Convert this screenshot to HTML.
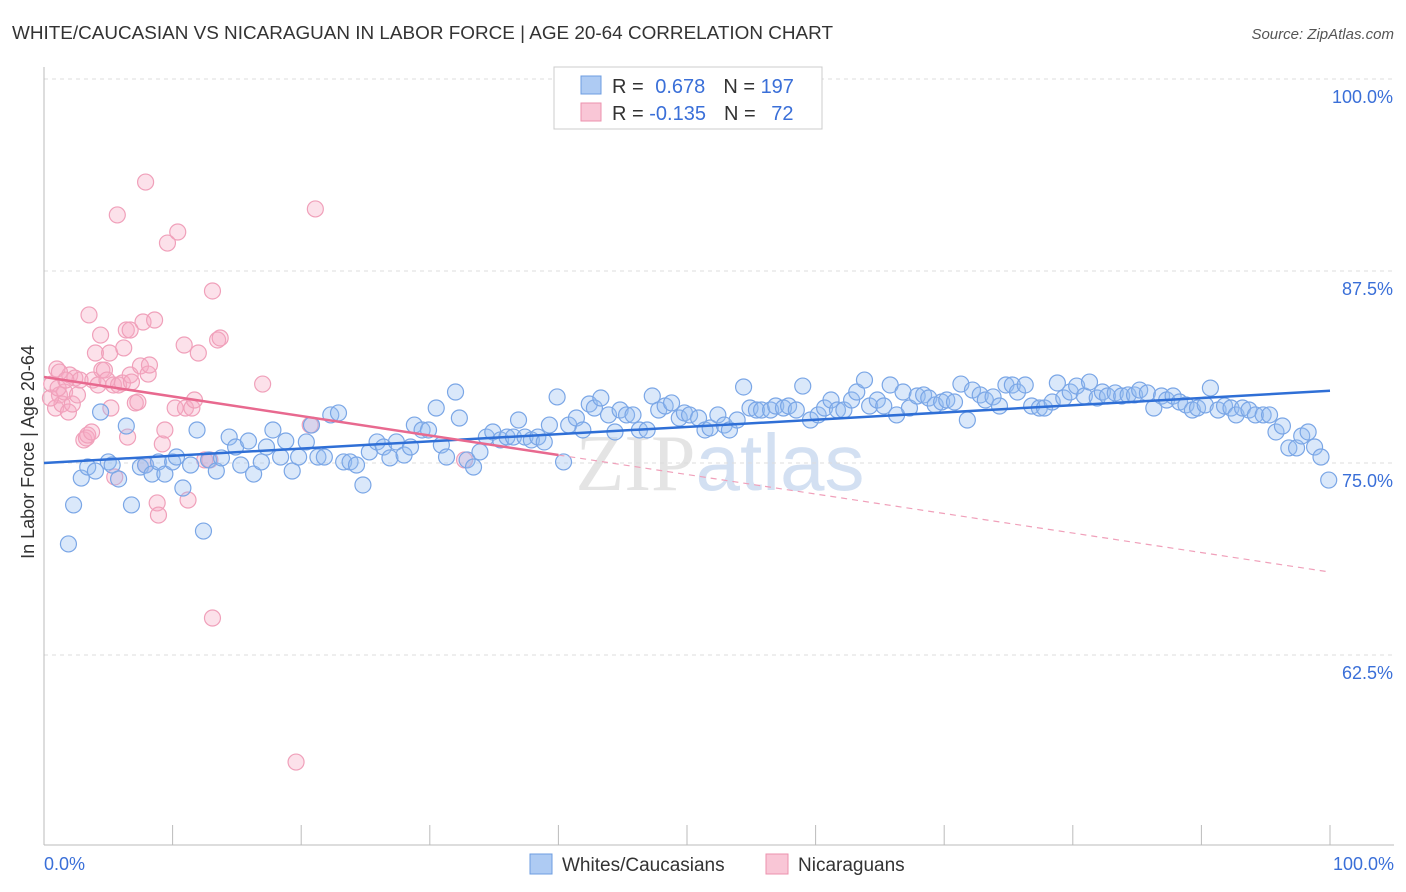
<!DOCTYPE html>
<html><head><meta charset="utf-8">
<style>
body{margin:0;background:#fff;font-family:"Liberation Sans",sans-serif;}
svg{display:block}
</style></head>
<body>
<svg id="chart" width="1406" height="892" xmlns="http://www.w3.org/2000/svg">
<text x="12" y="39" font-size="18" fill="#333" textLength="821" lengthAdjust="spacingAndGlyphs">WHITE/CAUCASIAN VS NICARAGUAN IN LABOR FORCE | AGE 20-64 CORRELATION CHART</text>
<text x="1394" y="39" font-size="15" fill="#555" font-style="italic" text-anchor="end">Source: ZipAtlas.com</text>
<text x="40" y="458" font-size="18" fill="#333" text-anchor="middle" transform="rotate(-90 34 458)">In Labor Force | Age 20-64</text>
<text x="720" y="490" font-size="80" fill="#e4e4e4" text-anchor="middle" font-family="Liberation Serif,serif">ZIP<tspan fill="#d3e0f2" font-family="Liberation Sans,sans-serif">atlas</tspan></text>
<g id="grid"></g><g id="pts"></g><g id="lines"></g>
<g>
<rect x="554" y="67" width="268" height="62" fill="#fff" stroke="#ccc"/>
<rect x="581" y="76" width="20" height="18" fill="#aecbf3" stroke="#6d9de0"/>
<rect x="581" y="103" width="20" height="18" fill="#f9c6d6" stroke="#ec92ae"/>
<text x="612" y="93" font-size="20" fill="#333">R = <tspan fill="#3a6fd8" dx="6">0.678</tspan><tspan dx="18">N = </tspan><tspan fill="#3a6fd8">197</tspan></text>
<text x="612" y="120" font-size="20" fill="#333">R = <tspan fill="#3a6fd8">-0.135</tspan><tspan dx="18">N = </tspan><tspan fill="#3a6fd8" dx="10">72</tspan></text>
</g>
<g>
<rect x="530" y="854" width="22" height="20" fill="#aecbf3" stroke="#6d9de0"/>
<text x="562" y="871" font-size="19" fill="#333">Whites/Caucasians</text>
<rect x="766" y="854" width="22" height="20" fill="#f9c6d6" stroke="#ec92ae"/>
<text x="798" y="871" font-size="19" fill="#333">Nicaraguans</text>
</g>
</svg>
<script>
const yTicks=[100,87.5,75,62.5];
const yTickLabels=["100.0%","87.5%","75.0%","62.5%"];
const bluePx=[[69,544],[74,505],[81,478],[88,467],[95,471],[101,412],[108,462],[112,465],[119,479],[126,426],[131,505],[140,467],[146,465],[152,474],[158,462],[165,474],[172,462],[177,457],[183,488],[190,465],[197,430],[203,531],[209,460],[216,471],[222,458],[229,437],[235,447],[241,465],[249,441],[254,474],[261,462],[266,447],[273,430],[280,457],[286,441],[292,471],[298,457],[306,442],[311,425],[318,457],[324,457],[331,415],[338,413],[343,462],[350,462],[356,465],[363,485],[370,452],[377,442],[384,447],[390,458],[396,442],[404,455],[410,447],[415,425],[422,430],[429,430],[436,408],[441,445],[447,457],[455,392],[460,418],[467,460],[473,467],[480,452],[487,437],[493,432],[500,440],[507,437],[513,437],[518,420],[525,437],[532,440],[538,437],[544,442],[550,425],[557,397],[563,462],[569,425],[576,418],[583,430],[589,404],[595,408],[601,398],[608,415],[615,432],[620,410],[627,415],[633,415],[640,430],[647,430],[652,396],[659,410],[665,406],[672,403],[679,418],[685,413],[690,415],[698,418],[705,430],[710,428],[718,415],[724,425],[730,430],[737,420],[743,387],[750,408],[757,410],[762,410],[770,410],[776,406],[783,408],[789,406],[796,410],[803,386],[810,420],[818,415],[825,408],[831,400],[837,410],[844,410],[851,400],[857,392],[864,380],[870,406],[877,400],[884,406],[890,385],[897,415],[903,392],[910,408],[917,396],[923,395],[929,398],[935,405],[942,402],[947,400],[954,402],[961,384],[967,420],[973,390],[980,395],[985,400],[993,397],[999,406],[1006,385],[1013,385],[1018,392],[1025,385],[1032,406],[1039,408],[1045,408],[1052,402],[1057,383],[1064,398],[1070,392],[1077,386],[1084,396],[1090,382],[1097,398],[1103,392],[1108,396],[1115,393],[1122,396],[1128,395],[1135,395],[1140,390],[1148,393],[1154,408],[1161,396],[1167,400],[1173,396],[1180,402],[1186,405],[1192,410],[1198,408],[1205,405],[1211,388],[1218,410],[1224,406],[1231,408],[1236,415],[1243,408],[1249,410],[1256,415],[1263,415],[1270,415],[1276,432],[1282,426],[1289,448],[1296,448],[1302,436],[1308,432],[1315,447],[1321,457],[1329,480]];
const pinkPx=[[52,384],[55,408],[57,369],[60,395],[62,404],[65,392],[68,412],[70,375],[72,404],[75,378],[78,395],[80,380],[84,440],[86,438],[88,435],[91,432],[89,315],[93,380],[95,353],[98,385],[100,335],[102,370],[104,370],[107,380],[109,353],[111,408],[113,385],[115,477],[117,215],[119,385],[122,383],[124,348],[126,330],[128,437],[130,375],[132,382],[135,403],[138,402],[141,366],[143,322],[145,182],[146,465],[148,374],[150,365],[155,320],[157,503],[158,515],[162,444],[165,430],[168,243],[175,408],[178,232],[184,345],[185,408],[188,500],[192,408],[195,400],[198,353],[205,460],[210,460],[212,291],[213,618],[218,340],[220,338],[262,384],[296,762],[310,425],[315,209],[465,460],[130,330],[60,372],[50,398],[58,388],[66,380]];
const blueX=bluePx.map(p=>+((p[0]-44)/12.86).toFixed(1));
const blueY=bluePx.map(p=>+(100-(p[1]-79)/15.36).toFixed(2));
const pinkX=pinkPx.map(p=>+((p[0]-44)/12.86).toFixed(1));
const pinkY=pinkPx.map(p=>+(100-(p[1]-79)/15.36).toFixed(2));
const blueTrend=[75.0,79.7];
const pinkTrend=[80.6,67.9];
const pinkSolidEnd=40;

const X=v=>44+v*12.86;
const Y=v=>79+(100-v)*15.36;
const NS="http://www.w3.org/2000/svg";
function mk(t,a,parent){const e=document.createElementNS(NS,t);for(const k in a)e.setAttribute(k,a[k]);parent.appendChild(e);return e;}
const grid=document.getElementById('grid');
yTicks.forEach((t,i)=>{
  const l=mk('line',{x1:44,x2:1394,y1:Y(t),y2:Y(t),stroke:'#ddd','stroke-dasharray':'4,4'},grid);
  
  
  const tx=mk('text',{x:1393,y:Y(t)+24,'font-size':18,fill:'#3a6fd8','text-anchor':'end'},grid);
  tx.textContent=yTickLabels[i];
  
  
});
const ax=mk('line',{x1:44,x2:44,y1:67,y2:845,stroke:'#bbb'},grid);


const bx=mk('line',{x1:44,x2:1394,y1:845,y2:845,stroke:'#bbb'},grid);


for(let i=0;i<=10;i++){const t=mk('line',{x1:X(i*10),x2:X(i*10),y1:825,y2:845,stroke:'#bbb'},grid);
  
  }
const xl0=mk('text',{x:44,y:870,'font-size':18,fill:'#3a6fd8'},grid);xl0.textContent='0.0%';


const xl1=mk('text',{x:1394,y:870,'font-size':18,fill:'#3a6fd8','text-anchor':'end'},grid);xl1.textContent='100.0%';


const pts=document.getElementById('pts');
pinkX.forEach((x,i)=>{const c=mk('circle',{cx:X(x),cy:Y(pinkY[i]),r:8,fill:'rgba(246,170,195,0.35)',stroke:'#f0a0ba','stroke-width':1.2},pts);
  
  });
blueX.forEach((x,i)=>{const c=mk('circle',{cx:X(x),cy:Y(blueY[i]),r:8,fill:'rgba(150,190,240,0.35)',stroke:'#7aa6e6','stroke-width':1.2},pts);
  
  });
const lines=document.getElementById('lines');
const bl=mk('line',{x1:X(0),y1:Y(blueTrend[0]),x2:X(100),y2:Y(blueTrend[1]),stroke:'#2f6fd6','stroke-width':2.5},lines);


const pv=x=>pinkTrend[0]+(pinkTrend[1]-pinkTrend[0])*x/100;
const pl=mk('line',{x1:X(0),y1:Y(pv(0)),x2:X(pinkSolidEnd),y2:Y(pv(pinkSolidEnd)),stroke:'#e8698f','stroke-width':2.5},lines);


const pd=mk('line',{x1:X(pinkSolidEnd),y1:Y(pv(pinkSolidEnd)),x2:X(100),y2:Y(pv(100)),stroke:'#f0a0ba','stroke-width':1.2,'stroke-dasharray':'6,5'},lines);


</script>
</body></html>
